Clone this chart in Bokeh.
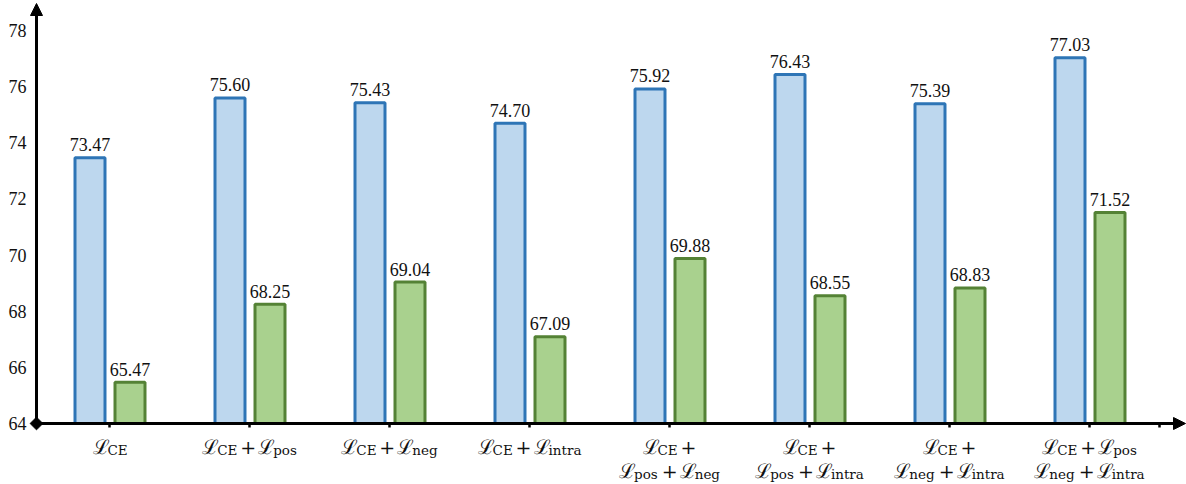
import numpy as np
from bokeh.plotting import figure
from bokeh.models import ColumnDataSource, Range1d, Arrow, NormalHead
from bokeh.core.properties import value
from bokeh.embed import file_html
from bokeh.resources import INLINE

# ---------------- data ----------------
group_labels = [
    ["ℒ_CE"],
    ["ℒ_CE + ℒ_pos"],
    ["ℒ_CE + ℒ_neg"],
    ["ℒ_CE + ℒ_intra"],
    ["ℒ_CE +", "ℒ_pos + ℒ_neg"],
    ["ℒ_CE +", "ℒ_pos + ℒ_intra"],
    ["ℒ_CE +", "ℒ_neg + ℒ_intra"],
    ["ℒ_CE + ℒ_pos", "ℒ_neg + ℒ_intra"],
]
blue_values = [73.47, 75.60, 75.43, 74.70, 75.92, 76.43, 75.39, 77.03]
green_values = [65.47, 68.25, 69.04, 67.09, 69.88, 68.55, 68.83, 71.52]
y_ticks = [64, 66, 68, 70, 72, 74, 76, 78]
y_base = 64

# ---------------- layout ----------------
W, H = 1186, 484
GROUP_PX = 140.0
FIRST_PX = 109.0
AXIS_Y_PX = 423.0
PX_PER_UNIT = 28.07

x_start = -FIRST_PX / GROUP_PX
x_end = (W - FIRST_PX) / GROUP_PX
y_end = y_base + AXIS_Y_PX / PX_PER_UNIT
y_start = y_base - (H - AXIS_Y_PX) / PX_PER_UNIT


def px_x(px):
    return x_start + px / GROUP_PX


def dx(px):
    return px / GROUP_PX


def py(px):
    return y_end - px / PX_PER_UNIT


BLUE_FILL, BLUE_LINE = "#BDD7EE", "#2E75B6"
GREEN_FILL, GREEN_LINE = "#A9D18E", "#548235"
SERIF = "Liberation Serif"

p = figure(width=W, height=H, x_range=Range1d(x_start, x_end),
           y_range=Range1d(y_start, y_end), output_backend="svg",
           toolbar_location=None, min_border=0,
           x_axis_location=None, y_axis_location=None)
p.grid.visible = False
p.outline_line_color = None
p.background_fill_color = "white"

n = len(blue_values)
xs = np.arange(n, dtype=float)
xb = xs - dx(19.5)
xg = xs + dx(20.5)

p.vbar(x=xb, width=dx(30), top=blue_values, bottom=y_base,
       fill_color=BLUE_FILL, line_color=BLUE_LINE, line_width=3)
p.vbar(x=xg, width=dx(30), top=green_values, bottom=y_base,
       fill_color=GREEN_FILL, line_color=GREEN_LINE, line_width=3)

# value labels
p.text(x=np.concatenate([xb, xg]), y=blue_values + green_values,
       text=[f"{v:.2f}" for v in blue_values + green_values],
       text_align="center", text_baseline="alphabetic", y_offset=-13,
       text_font=value(SERIF), text_font_size="18px", text_color="#111111")

# y tick labels
p.text(x=[px_x(26)] * len(y_ticks), y=y_ticks, text=[str(t) for t in y_ticks],
       text_align="right", text_baseline="middle",
       text_font=value(SERIF), text_font_size="18px", text_color="#111111")

# x tick marks
tick_x = list(xs) + [n - 0.5]
p.segment(x0=tick_x, y0=[y_base] * len(tick_x), x1=tick_x,
          y1=[py(AXIS_Y_PX + 4)] * len(tick_x), line_color="black", line_width=2.5)

# axes with arrows
axis_x = px_x(36)
p.add_layout(Arrow(end=NormalHead(size=12, line_color="black", fill_color="black"),
                   x_start=axis_x, y_start=y_base, x_end=x_end - dx(1), y_end=y_base,
                   line_width=3, line_color="black"))
p.add_layout(Arrow(end=NormalHead(size=12, line_color="black", fill_color="black"),
                   x_start=axis_x, y_start=y_base, x_end=axis_x, y_end=py(3),
                   line_width=3, line_color="black"))
p.scatter(x=[axis_x], y=[y_base], marker="square", angle=np.pi / 4, size=9,
          color="black")

# group labels built from tokens
ELL_FONT, ELL_SIZE, ELL_W = "DejaVu Serif", 20, 15.0
PLUS_FONT, PLUS_SIZE, PLUS_W = "DejaVu Serif", 19, 16.0
SUB_FONT, SUB_SIZE = "DejaVu Serif", 13.5
SUB_EM = {'C': 0.722, 'E': 0.683, 'p': 0.640, 'o': 0.602, 's': 0.513, 'n': 0.644,
          'e': 0.592, 'g': 0.640, 'i': 0.320, 't': 0.402, 'r': 0.478, 'a': 0.596}
GAP = 2.0
LINE1_OFF, LINE_STEP, SUB_DROP = 23.0, 24.0, 3.5

ell = dict(x=[], y=[], text=[], xo=[], yo=[])
plus = dict(x=[], y=[], text=[], xo=[], yo=[])
sub = dict(x=[], y=[], text=[], xo=[], yo=[])

for gi, lines in enumerate(group_labels):
    for li, line in enumerate(lines):
        toks = line.split(" ")
        items = []
        for t in toks:
            if t == "+":
                items.append(("plus", "+", PLUS_W))
            else:
                s = t.split("_")[1]
                items.append(("ell", "ℒ", ELL_W))
                items.append(("sub", s, sum(SUB_EM[c] for c in s) * SUB_SIZE))
        total = 0.0
        for k, (kind, txt, w) in enumerate(items):
            total += w
            if kind != "ell" and k < len(items) - 1:
                total += GAP
            if kind == "plus":
                total += GAP
        cur = -total / 2
        base = LINE1_OFF + LINE_STEP * li
        for k, (kind, txt, w) in enumerate(items):
            if kind == "plus":
                cur += GAP
            d = {"ell": ell, "plus": plus, "sub": sub}[kind]
            d["x"].append(float(gi))
            d["y"].append(y_base)
            d["text"].append(txt)
            d["xo"].append(cur)
            d["yo"].append(base + (SUB_DROP if kind == "sub" else 0))
            cur += w
            if kind != "ell" and k < len(items) - 1:
                cur += GAP

for d, font, size in [(ell, ELL_FONT, ELL_SIZE), (plus, PLUS_FONT, PLUS_SIZE),
                      (sub, SUB_FONT, SUB_SIZE)]:
    src = ColumnDataSource(d)
    p.text(x="x", y="y", text="text", x_offset="xo", y_offset="yo", source=src,
           text_align="left", text_baseline="alphabetic",
           text_font=value(font), text_font_size=f"{size}px", text_color="#111111")

html = file_html(p, INLINE, title="chart")
html = html.replace("</head>", "<style>html,body{margin:0;padding:0;overflow:hidden;}</style></head>", 1)
open("out.html", "w").write(html)
